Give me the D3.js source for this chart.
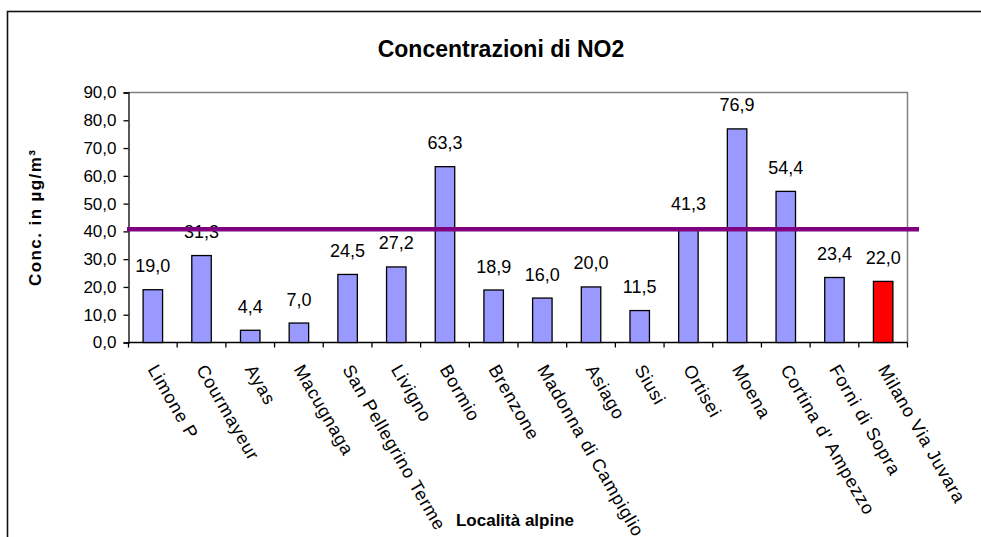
<!DOCTYPE html>
<html>
<head>
<meta charset="utf-8">
<script src="https://cdn.jsdelivr.net/npm/d3@7"></script>
<style>
  html, body { margin: 0; padding: 0; background: #fff; }
  svg { display: block; font-family: Arial, "Liberation Sans", sans-serif; }
</style>
</head>
<body>
<svg id="chart" width="981" height="537"></svg>
<script>
// NO2 concentrations at alpine locations (µg/m³)
const categories = [
  "Limone P", "Courmayeur", "Ayas", "Macugnaga", "San Pellegrino Terme",
  "Livigno", "Bormio", "Brenzone", "Madonna di Campiglio", "Asiago",
  "Siusi", "Ortisei", "Moena", "Cortina d' Ampezzo", "Forni di Sopra",
  "Milano Via Juvara"
];
const values = [19.0, 31.3, 4.4, 7.0, 24.5, 27.2, 63.3, 18.9, 16.0, 20.0, 11.5, 41.3, 76.9, 54.4, 23.4, 22.0];
const yTicks = [0, 10, 20, 30, 40, 50, 60, 70, 80, 90];
const limitValue = 40.8;          // reference limit line
const highlighted = "Milano Via Juvara";

const svg = d3.select("#chart");
const plot = { left: 128.5, right: 907.5, top: 92.5, bottom: 342.5 };

// outer frame
svg.append("rect")
  .attr("x", 7.5).attr("y", 11.5)
  .attr("width", 1000).attr("height", 600)
  .attr("fill", "none").attr("stroke", "#111").attr("stroke-width", 1.6);

const x = d3.scaleBand()
  .domain(categories)
  .range([plot.left, plot.right])
  .paddingInner(0.6)
  .paddingOuter(0.3);

const y = d3.scaleLinear().domain([0, 90]).range([plot.bottom, plot.top]);

const fmt = v => d3.format(".1f")(v).replace(".", ",");

// plot-area frame (top & right in grey)
svg.append("path")
  .attr("d", `M${plot.left},${plot.top}H${plot.right}V${plot.bottom}`)
  .attr("fill", "none").attr("stroke", "#808080").attr("stroke-width", 1.5);

// Y axis
const yAxis = d3.axisLeft(y).tickValues(yTicks).tickFormat(fmt).tickSize(5).tickPadding(7);
const gy = svg.append("g").attr("transform", `translate(${plot.left},0)`).call(yAxis);
gy.select(".domain").attr("stroke", "#000").attr("stroke-width", 1.3);
gy.selectAll(".tick line").attr("stroke", "#000").attr("stroke-width", 1.3);
gy.selectAll(".tick text").attr("font-size", 17).attr("fill", "#000")
  .attr("font-family", "Arial, 'Liberation Sans', sans-serif");

// X axis: ticks at category boundaries
const step = x.step();
const bounds = d3.range(categories.length + 1).map(i => plot.left + i * step);
svg.append("line")
  .attr("x1", plot.left).attr("x2", plot.right)
  .attr("y1", plot.bottom).attr("y2", plot.bottom)
  .attr("stroke", "#000").attr("stroke-width", 1.3);
svg.selectAll(".xtick").data(bounds).join("line")
  .attr("class", "xtick")
  .attr("x1", d => d).attr("x2", d => d)
  .attr("y1", plot.bottom).attr("y2", plot.bottom + 5)
  .attr("stroke", "#000").attr("stroke-width", 1.3);

// bars
svg.selectAll(".bar").data(categories).join("rect")
  .attr("class", "bar")
  .attr("x", d => x(d))
  .attr("width", x.bandwidth())
  .attr("y", (d, i) => y(values[i]))
  .attr("height", (d, i) => y(0) - y(values[i]))
  .attr("fill", d => d === highlighted ? "#FF0000" : "#9999FF")
  .attr("stroke", "#000").attr("stroke-width", 1.3);

// value labels
svg.selectAll(".val").data(categories).join("text")
  .attr("class", "val")
  .attr("x", d => x(d) + x.bandwidth() / 2)
  .attr("y", (d, i) => y(values[i]) - 17.5)
  .attr("text-anchor", "middle")
  .attr("font-size", 18)
  .text((d, i) => fmt(values[i]));

// limit line
svg.append("line")
  .attr("x1", plot.left - 1.5).attr("x2", plot.right + 11.5)
  .attr("y1", y(limitValue)).attr("y2", y(limitValue))
  .attr("stroke", "#800080").attr("stroke-width", 4.5);

// rotated category labels
svg.selectAll(".cat").data(categories).join("text")
  .attr("class", "cat")
  .attr("transform", d => `translate(${x(d) + x.bandwidth() / 2 + 6},${plot.bottom + 20}) rotate(60)`)
  .attr("dy", "0.75em")
  .attr("text-anchor", "start")
  .attr("font-size", 18)
  .attr("letter-spacing", 0.8)
  .text(d => d);

// title
svg.append("text")
  .attr("x", 501).attr("y", 57)
  .attr("text-anchor", "middle")
  .attr("font-size", 23).attr("font-weight", "bold")
  .text("Concentrazioni di NO2");

// y axis title
svg.append("text")
  .attr("transform", "translate(41,218) rotate(-90)")
  .attr("text-anchor", "middle")
  .attr("font-size", 17).attr("font-weight", "bold")
  .attr("textLength", 136).attr("lengthAdjust", "spacing")
  .text("Conc. in µg/m³");

// x axis title
svg.append("text")
  .attr("x", 515).attr("y", 526)
  .attr("text-anchor", "middle")
  .attr("font-size", 17).attr("font-weight", "bold")
  .text("Località alpine");
</script>
</body>
</html>
